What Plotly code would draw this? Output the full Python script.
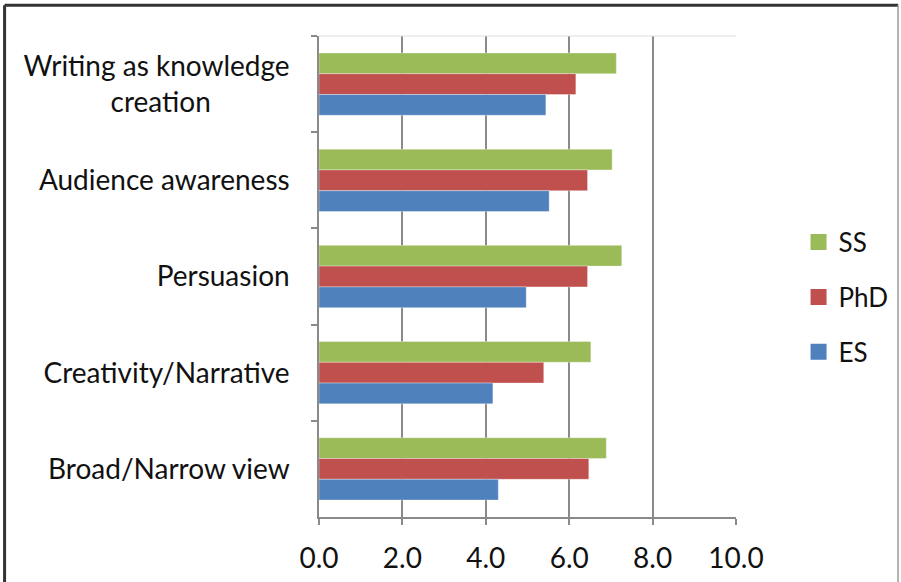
import plotly.graph_objects as go

categories = ["Writing as knowledge<br>creation" + "\u00a0" * 11,
              "Audience awareness",
              "Persuasion",
              "Creativity/Narrative",
              "Broad/Narrow view"]
series_names = ["SS", "PhD", "ES"]
ss_values = [7.13, 7.03, 7.26, 6.52, 6.89]
phd_values = [6.16, 6.44, 6.44, 5.39, 6.47]
es_values = [5.44, 5.52, 4.97, 4.17, 4.30]
x_tick_values = [0, 2, 4, 6, 8, 10]
x_tick_labels = ["0.0", "2.0", "4.0", "6.0", "8.0", "10.0"]

colors = {"SS": "#9BBB59", "PhD": "#C0504D", "ES": "#4F81BD"}
values = {"SS": ss_values, "PhD": phd_values, "ES": es_values}

FONT = "Lato"
fig = go.Figure()
for name in series_names:
    fig.add_trace(go.Bar(
        y=categories, x=values[name], orientation="h", name=name,
        marker=dict(color=colors[name], line=dict(color="rgba(255,255,255,0.35)", width=1)),
        showlegend=False,
    ))
for name in series_names:
    fig.add_trace(go.Scatter(
        x=[None], y=[None], mode="markers", name=name, legendgroup=name,
        marker=dict(symbol="square", size=16, color=colors[name]),
        showlegend=True,
    ))

fig.update_layout(
    width=901, height=582,
    margin=dict(l=319, r=165, t=36, b=65, autoexpand=False),
    paper_bgcolor="white", plot_bgcolor="white",
    barmode="group", bargap=0.352, bargroupgap=0,
    font=dict(family=FONT, color="#111111"),
    legend=dict(x=1.15, xanchor="left", y=0.457, yanchor="middle",
                font=dict(size=26, family=FONT, color="#111111"),
                traceorder="grouped", tracegroupgap=18,
                bgcolor="rgba(0,0,0,0)"),
    xaxis=dict(range=[0, 10], tickvals=x_tick_values, ticktext=x_tick_labels,
               showgrid=True, gridcolor="#8a8a8a", gridwidth=1.5,
               showline=True, linecolor="#8a8a8a", linewidth=1.5,
               ticks="outside", ticklen=6, tickcolor="#8a8a8a", tickwidth=1.5,
               ticklabelstandoff=10,
               tickfont=dict(size=28, family=FONT, color="#111111"),
               zeroline=False, fixedrange=True),
    yaxis=dict(autorange="reversed", showline=True, linecolor="#8a8a8a", linewidth=1.5,
               ticks="outside", ticklen=6, tickcolor="#8a8a8a", tickwidth=1.5,
               tickson="boundaries", ticklabelstandoff=22,
               tickfont=dict(size=28, family=FONT, color="#111111"),
               showgrid=False, fixedrange=True),
    shapes=[
        dict(type="line", xref="paper", yref="paper", x0=0, x1=1, y0=1, y1=1,
             line=dict(color="#dddddd", width=1)),
        dict(type="line", xref="paper", yref="paper", x0=-0.754, x1=1.389, y0=1.064, y1=1.064,
             line=dict(color="#333333", width=3)),
        dict(type="line", xref="paper", yref="paper", x0=-0.754, x1=-0.754, y0=1.064, y1=-0.2,
             line=dict(color="#333333", width=3)),
        dict(type="line", xref="paper", yref="paper", x0=1.3885, x1=1.3885, y0=1.064, y1=-0.2,
             line=dict(color="#9a9a9a", width=1.5)),
    ],
)
fig.write_html("out.html", config={"displayModeBar": False},
               post_script="document.body.style.margin='0px';")
